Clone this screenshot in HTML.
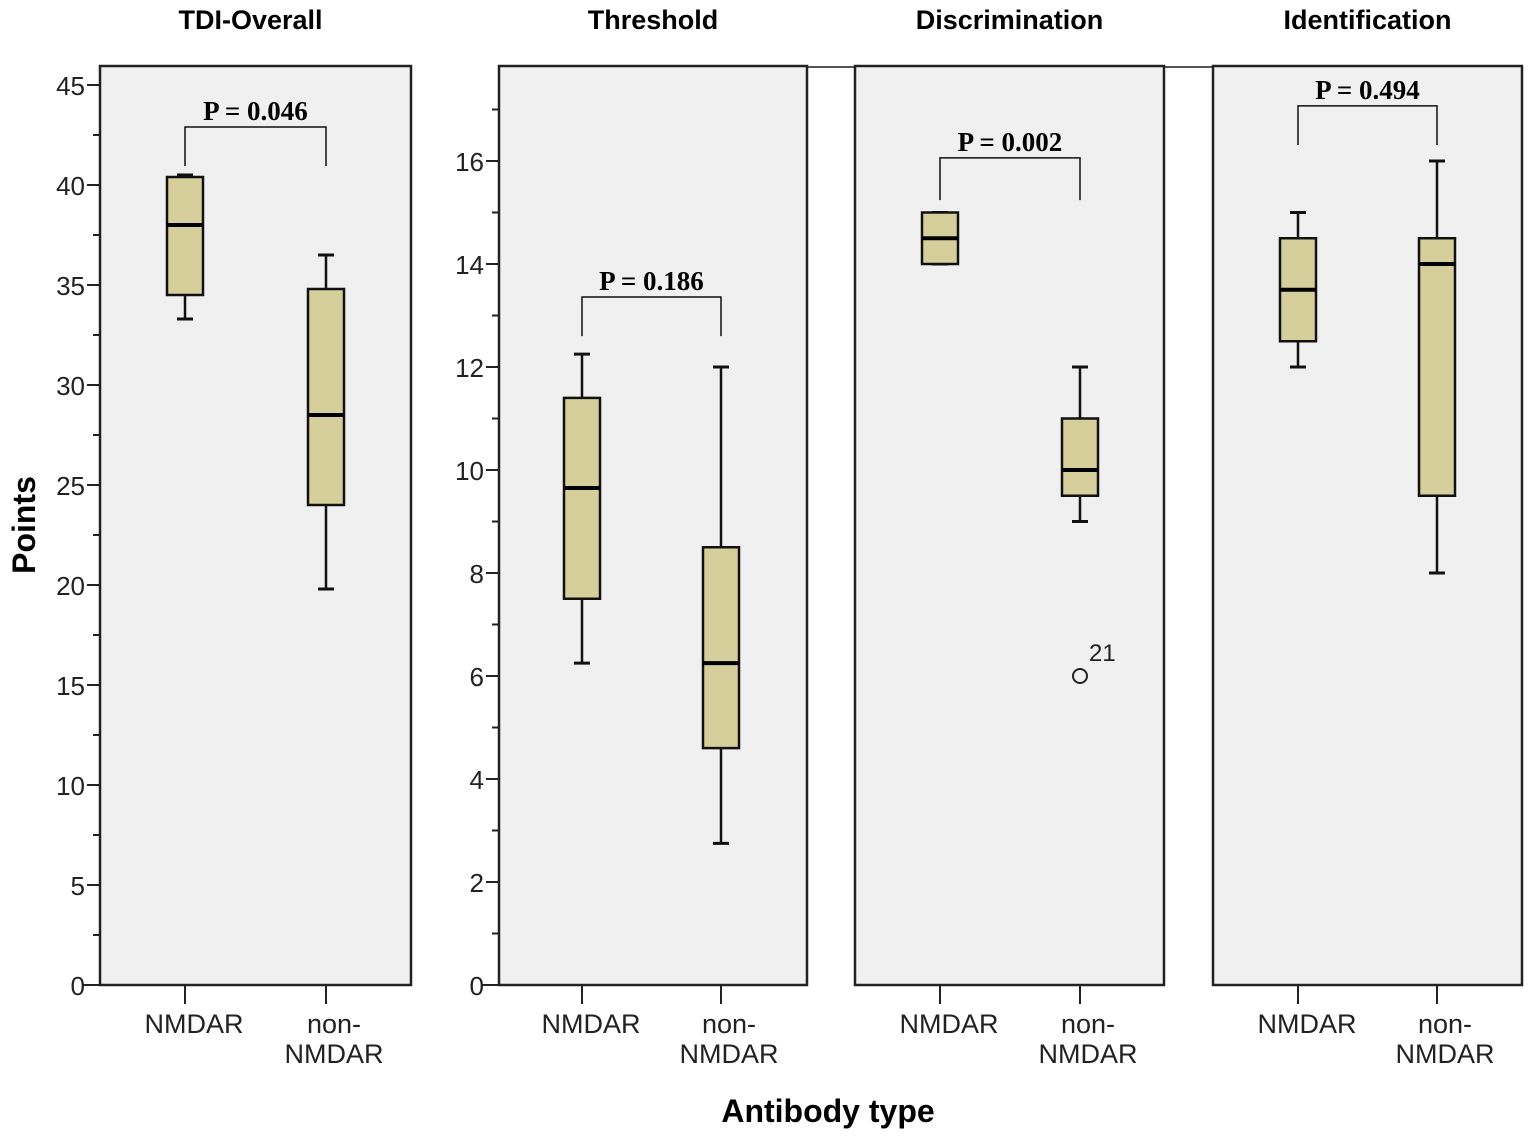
<!DOCTYPE html>
<html><head><meta charset="utf-8"><style>
body{margin:0;background:#fff;}
svg{display:block;font-family:"Liberation Sans",Arial,sans-serif;}
</style></head><body>
<svg id="chart" width="1535" height="1140" viewBox="0 0 1535 1140" xmlns="http://www.w3.org/2000/svg"></svg>
<script>
const panelTitles = ["TDI-Overall","Threshold","Discrimination","Identification"];
const categories = ["NMDAR","non-NMDAR"];
// [whiskerLow, q1, median, q3, whiskerHigh] per panel per category
const nmdarStats = [[33.3,34.5,38,40.4,40.5],[6.25,7.5,9.65,11.4,12.25],[14,14,14.5,15,15],[12,12.5,13.5,14.5,15]];
const nonNmdarStats = [[19.8,24,28.5,34.8,36.5],[2.75,4.6,6.25,8.5,12],[9,9.5,10,11,12],[8,9.5,14,14.5,16]];
const outlierValues = [null,null,6,null];
const outlierLabels = ["","","21",""];
const pValues = ["P = 0.046","P = 0.186","P = 0.002","P = 0.494"];
const pBracketY = [42.9,13.36,16.06,17.07];
const pLegY = [40.95,12.6,15.24,16.31];
const ticks1 = [0,5,10,15,20,25,30,35,40,45];
const ticks2 = [0,2,4,6,8,10,12,14,16];

const svg=document.getElementById('chart');
const NS='http://www.w3.org/2000/svg';
function mk(tag,attrs,parent){const e=document.createElementNS(NS,tag);for(const k in attrs)e.setAttribute(k,attrs[k]);(parent||svg).appendChild(e);return e;}
const panels=[{x0:100,x1:411,top:66,bot:985,y0:985,ppu:20,c:[185,326]},
{x0:499,x1:807,top:66,bot:985,y0:985,ppu:51.5,c:[582,721]},
{x0:855,x1:1164,top:66,bot:985,y0:985,ppu:51.5,c:[940,1080]},
{x0:1213,x1:1522,top:66,bot:985,y0:985,ppu:51.5,c:[1298,1437]}];
let tl=mk('line',{x1:807,x2:1213,y1:67,y2:67,stroke:'#555','stroke-width':2});


panels.forEach((p,i)=>{
  const y=v=>p.y0-v*p.ppu;
  const g=mk('g',{});
  
  
  const r=mk('rect',{x:p.x0,y:p.top,width:p.x1-p.x0,height:p.bot-p.top,fill:'#f0f0f0',stroke:'#222','stroke-width':2.5},g);
  
  
  const t=mk('text',{x:(p.x0+p.x1)/2-(i==0?5:0),y:29,'text-anchor':'middle','font-size':27,'font-weight':'bold'},g);t.textContent=panelTitles[i];
  
  
  if(i<2){
    const tk=i==0?ticks1:ticks2; const step=tk[1]-tk[0];
    tk.forEach((v,k)=>{
      mk('line',{x1:p.x0-13,x2:p.x0,y1:y(v),y2:y(v),stroke:'#222','stroke-width':2},g);
      const tt=mk('text',{x:p.x0-15,y:y(v)+10,'text-anchor':'end','font-size':26,fill:'#222'},g);tt.textContent=v;
      
      
      if(k<tk.length-1) mk('line',{x1:p.x0-7,x2:p.x0,y1:y(v+step/2),y2:y(v+step/2),stroke:'#222','stroke-width':2},g);
    });
    if(i==1) mk('line',{x1:p.x0-7,x2:p.x0,y1:y(17),y2:y(17),stroke:'#222','stroke-width':2},g);
    mk('line',{x1:p.x0-18,x2:p.x0,y1:p.y0,y2:p.y0,stroke:'#222','stroke-width':2},g);
  }
  [nmdarStats[i],nonNmdarStats[i]].forEach((s,j)=>{
    const cx=p.c[j];
    mk('line',{x1:cx,x2:cx,y1:p.bot,y2:p.bot+19,stroke:'#222','stroke-width':2},g);
    if(j==0){const c=mk('text',{x:cx+9,y:1033,'text-anchor':'middle','font-size':27,fill:'#222'},g);c.textContent='NMDAR';
      }
    else{const c=mk('text',{x:cx+8,y:1033,'text-anchor':'middle','font-size':27,fill:'#222'},g);c.textContent='non-';
      
      const c2=mk('text',{x:cx+8,y:1063,'text-anchor':'middle','font-size':27,fill:'#222'},g);c2.textContent='NMDAR';
      }
    const bg=mk('g',{},g);
    
    
    mk('line',{x1:cx,x2:cx,y1:y(s[0]),y2:y(s[4]),stroke:'#111','stroke-width':2.5},bg);
    mk('line',{x1:cx-8,x2:cx+8,y1:y(s[0]),y2:y(s[0]),stroke:'#111','stroke-width':3},bg);
    mk('line',{x1:cx-8,x2:cx+8,y1:y(s[4]),y2:y(s[4]),stroke:'#111','stroke-width':3},bg);
    mk('rect',{x:cx-18,y:y(s[3]),width:36,height:y(s[1])-y(s[3]),fill:'#d6cf9c',stroke:'#111','stroke-width':2.5},bg);
    mk('line',{x1:cx-18,x2:cx+18,y1:y(s[2]),y2:y(s[2]),stroke:'#000','stroke-width':4},bg);
  });
  if(outlierValues[i]!==null){
    const o=mk('circle',{cx:p.c[1],cy:y(outlierValues[i]),r:7,fill:'none',stroke:'#222','stroke-width':2},g);
    
    const ol=mk('text',{x:p.c[1]+9,y:y(outlierValues[i])-15,'font-size':24,fill:'#222'},g);ol.textContent=outlierLabels[i];
    
  }
  const by=y(pBracketY[i]), ly=y(pLegY[i]);
  const br=mk('path',{d:`M${p.c[0]},${ly}V${by}H${p.c[1]}V${ly}`,fill:'none',stroke:'#111','stroke-width':1.5},g);
  
  const pt=mk('text',{x:(p.c[0]+p.c[1])/2,y:by-7,'text-anchor':'middle','font-size':27,'font-weight':'bold','font-family':'"Liberation Serif",serif'},g);pt.textContent=pValues[i];
  
});
const ya=mk('text',{x:0,y:0,transform:'translate(35,525) rotate(-90)','text-anchor':'middle','font-size':32,'font-weight':'bold'});ya.textContent='Points';

const xa=mk('text',{x:828,y:1122,'text-anchor':'middle','font-size':32,'font-weight':'bold'});xa.textContent='Antibody type';

</script>
</body></html>
